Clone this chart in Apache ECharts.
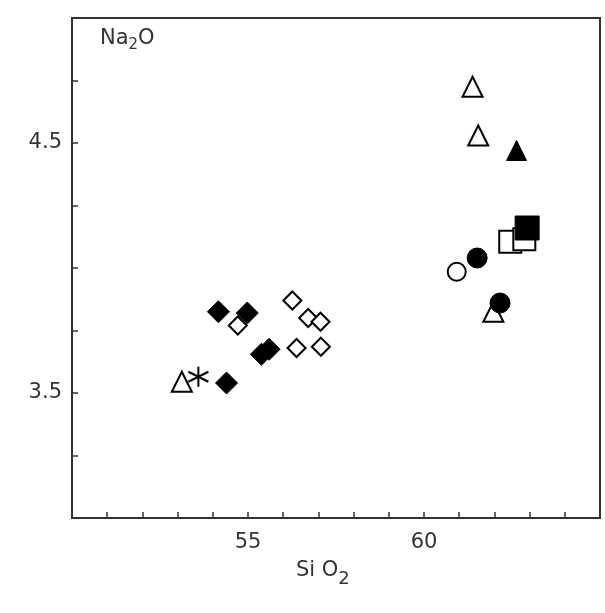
<!DOCTYPE html>
<html><head><meta charset="utf-8">
<script src="https://cdn.jsdelivr.net/npm/echarts@6/dist/echarts.min.js"></script>
<style>html,body{margin:0;padding:0;background:#fff}#c{width:605px;height:613px}</style>
</head><body><div id="c"></div>
<script>
// [SiO2, Na2O]
const openTriangles = [[61.38, 4.725], [61.54, 4.53], [53.12, 3.545], [61.97, 3.825]];
const filledTriangles = [[62.63, 4.47]];
const openSquares = [[62.45, 4.105], [62.85, 4.115]];
const filledSquares = [[62.93, 4.16]];
const openCircles = [[60.93, 3.985]];
const filledCircles = [[61.51, 4.04], [62.16, 3.86]];
const asterisks = [[53.59, 3.565]];
const filledDiamonds = [[54.16, 3.825], [54.98, 3.82], [54.39, 3.54], [55.38, 3.655], [55.6, 3.675]];
const openDiamonds = [[54.71, 3.77], [56.26, 3.87], [56.71, 3.80], [57.06, 3.785], [56.38, 3.68], [57.07, 3.685]];
const xLabels = [55, 60];
const yLabels = [3.5, 4.5];

const ink = '#000';
const font = 'DejaVu Sans';
function openS(name, symbol, data, size) {
  return {name, type: 'scatter', symbol, symbolSize: size, data, emphasis: {disabled: true},
    itemStyle: {color: '#fff', borderColor: ink, borderWidth: 2, opacity: 1}};
}
function fillS(name, symbol, data, size) {
  return {name, type: 'scatter', symbol, symbolSize: size, data, emphasis: {disabled: true},
    itemStyle: {color: ink, borderColor: ink, borderWidth: 1, opacity: 1}};
}
const chart = echarts.init(document.getElementById('c'));
chart.setOption({
  animation: false,
  backgroundColor: '#fff',
  grid: {left: 72, right: 5, top: 18, bottom: 95, show: true, borderColor: '#333', borderWidth: 2},
  xAxis: {
    type: 'value', min: 50, max: 65, interval: 1,
    axisLine: {show: true, lineStyle: {color: '#333', width: 2}},
    axisTick: {show: true, inside: true, length: 6, lineStyle: {color: '#333', width: 1.5}},
    splitLine: {show: false},
    axisLabel: {fontFamily: font, fontSize: 21, color: '#333', margin: 14,
      formatter: v => xLabels.includes(v) ? String(v) : ''}
  },
  yAxis: {
    type: 'value', min: 3, max: 5, interval: 0.25,
    axisLine: {show: true, lineStyle: {color: '#333', width: 2}},
    axisTick: {show: true, inside: true, length: 6, lineStyle: {color: '#333', width: 1.5}},
    splitLine: {show: false},
    axisLabel: {fontFamily: font, fontSize: 21, color: '#333', margin: 10,
      formatter: v => yLabels.includes(v) ? v.toFixed(1) : ''}
  },
  graphic: [
    {type: 'text', left: 100, top: 28, style: {
      text: '{b|Na}{s|2}{b|O}', fontFamily: font,
      rich: {b: {fontSize: 21, fill: '#333', fontFamily: font}, s: {fontSize: 15, fill: '#333', fontFamily: font, padding: [14, 0, 0, 0]}}}},
    {type: 'text', left: 296, top: 560, style: {
      text: '{b|Si O}{s|2}', fontFamily: font,
      rich: {b: {fontSize: 21, fill: '#333', fontFamily: font}, s: {fontSize: 18, fill: '#333', fontFamily: font, padding: [18, 0, 0, 0]}}}}
  ],
  series: [
    openS('open triangle', 'triangle', openTriangles, 20),
    fillS('filled triangle', 'triangle', filledTriangles, 20),
    openS('open square', 'rect', openSquares, 22),
    fillS('filled square', 'rect', filledSquares, 24),
    openS('open circle', 'circle', openCircles, 18),
    fillS('filled circle', 'circle', filledCircles, 20),
    {name: 'asterisk', type: 'scatter', symbol: 'path://M0,-10L0,10M-8.66,-5L8.66,5M-8.66,5L8.66,-5', symbolSize: 20,
      data: asterisks, emphasis: {disabled: true}, itemStyle: {color: 'none', borderColor: ink, borderWidth: 2, opacity: 1}},
    openS('open diamond', 'diamond', openDiamonds, 18),
    fillS('filled diamond', 'diamond', filledDiamonds, 22)
  ]
});
</script></body></html>
